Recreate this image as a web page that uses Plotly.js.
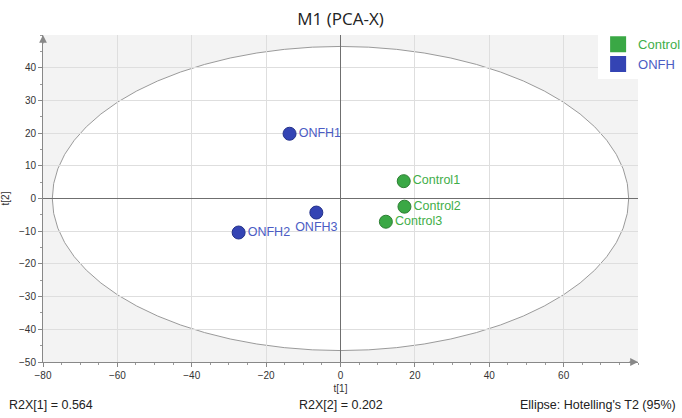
<!DOCTYPE html>
<html>
<head>
<meta charset="utf-8">
<script src="https://cdn.plot.ly/plotly-3.0.1.min.js"></script>
<style>html,body{margin:0;padding:0;background:#fff;}#chart{width:682px;height:418px;}</style>
</head>
<body>
<div id="chart"></div>
<script>
// Data
const controlNames = ["Control1", "Control2", "Control3"];
const controlT1 = [17.0, 17.2, 12.2];
const controlT2 = [5.3, -2.5, -7.1];
const onfhNames = ["ONFH1", "ONFH2", "ONFH3"];
const onfhT1 = [-13.7, -27.4, -6.5];
const onfhT2 = [19.8, -10.4, -4.3];
const ellipseA = 77.5;   // Hotelling's T2 (95%) semi-axis on t[1]
const ellipseB = 46.5;   // semi-axis on t[2]
const xTicks = [-80, -60, -40, -20, 0, 20, 40, 60];
const yTicks = [-50, -40, -30, -20, -10, 0, 10, 20, 30, 40];
const footerTexts = ["R2X[1] = 0.564", "R2X[2] = 0.202", "Ellipse: Hotelling's T2 (95%)"];

const green = "#3aa845", greenText = "#3fae49", greenEdge = "#2d7f33";
const blue = "#3444b4", blueText = "#4b5cc4", blueEdge = "#22308a";
const arial = "Liberation Sans, Arial, sans-serif";

const traces = [
  {
    x: controlT1, y: controlT2, text: controlNames, mode: "markers+text", type: "scatter",
    textposition: ["middle right", "middle right", "middle right"],
    marker: {size: 13, color: green, line: {color: greenEdge, width: 1}},
    textfont: {color: greenText, size: 12.5, family: arial},
    showlegend: false, hoverinfo: "text", cliponaxis: false
  },
  {
    x: onfhT1, y: onfhT2, text: onfhNames, mode: "markers+text", type: "scatter",
    textposition: ["middle right", "middle right", "bottom center"],
    marker: {size: 13, color: blue, line: {color: blueEdge, width: 1}},
    textfont: {color: blueText, size: 12.5, family: arial},
    showlegend: false, hoverinfo: "text", cliponaxis: false
  },
  {
    x: [null], y: [null], mode: "markers", type: "scatter",
    name: '<span style="color:' + greenText + '">Control</span>',
    marker: {symbol: "square", size: 16, color: green}
  },
  {
    x: [null], y: [null], mode: "markers", type: "scatter",
    name: '<span style="color:' + blueText + '">ONFH</span>',
    marker: {symbol: "square", size: 16, color: blue}
  }
];

const tickFont = {size: 10, color: "#333", family: arial};

const layout = {
  width: 682, height: 418,
  margin: {l: 43, r: 44, t: 35, b: 56, autoexpand: false},
  paper_bgcolor: "#ffffff",
  plot_bgcolor: "#f3f3f3",
  title: {text: "M1 (PCA-X)", x: 0.5, xref: "paper", y: 0.968, yanchor: "top",
          font: {size: 17, color: "#222", family: "Open Sans, sans-serif"}},
  xaxis: {
    range: [-80, 80], tickvals: xTicks, ticks: "outside", ticklen: 4, tickcolor: "#888",
    showgrid: true, gridcolor: "#dedede", gridwidth: 1,
    zeroline: true, zerolinecolor: "#6f6f6f", zerolinewidth: 1,
    showline: true, linecolor: "#888", linewidth: 1, mirror: false,
    minor: {dtick: 5, ticks: "outside", ticklen: 2, tickcolor: "#999", showgrid: false},
    tickfont: tickFont,
    title: {text: "t[1]", font: {size: 10, color: "#333", family: arial}, standoff: 4},
    automargin: false, fixedrange: true
  },
  yaxis: {
    range: [-50, 50], tickvals: yTicks, ticks: "outside", ticklen: 4, tickcolor: "#888",
    showgrid: true, gridcolor: "#dedede", gridwidth: 1,
    zeroline: true, zerolinecolor: "#6f6f6f", zerolinewidth: 1,
    showline: true, linecolor: "#888", linewidth: 1,
    minor: {dtick: 5, ticks: "outside", ticklen: 2, tickcolor: "#999", showgrid: false},
    tickfont: tickFont,
    title: {text: "t[2]", font: {size: 10, color: "#333", family: arial}, standoff: 9},
    automargin: false, fixedrange: true
  },
  shapes: [
    {type: "circle", xref: "x", yref: "y", x0: -ellipseA, x1: ellipseA, y0: -ellipseB, y1: ellipseB,
     fillcolor: "#ffffff", line: {color: "#9a9a9a", width: 1}, layer: "below"}
  ],
  legend: {
    xref: "container", yref: "container",
    x: 0.877, xanchor: "left", y: 0.93, yanchor: "top",
    bgcolor: "#ffffff", borderwidth: 0,
    font: {size: 13, family: arial},
    itemwidth: 30, tracegroupgap: 0
  },
  annotations: [
    {xref: "paper", yref: "paper", x: 1.0, y: 0, text: "", showarrow: true,
     arrowhead: 2, arrowsize: 1.2, arrowwidth: 1.3, arrowcolor: "#888", ax: -10, ay: 0},
    {xref: "paper", yref: "paper", x: 0, y: 1.0, text: "", showarrow: true,
     arrowhead: 2, arrowsize: 1.2, arrowwidth: 1.3, arrowcolor: "#888", ax: 0, ay: 10},
    {xref: "paper", yref: "paper", x: -0.0606, y: -0.1315, xanchor: "left", yanchor: "middle",
     text: footerTexts[0], showarrow: false, font: {size: 12.5, color: "#222", family: arial}},
    {xref: "paper", yref: "paper", x: 0.5, y: -0.1315, xanchor: "center", yanchor: "middle",
     text: footerTexts[1], showarrow: false, font: {size: 12.5, color: "#222", family: arial}},
    {xref: "paper", yref: "paper", x: 1.067, y: -0.1315, xanchor: "right", yanchor: "middle",
     text: footerTexts[2], showarrow: false, font: {size: 12.5, color: "#222", family: arial}}
  ],
  hovermode: "closest"
};

Plotly.newPlot("chart", traces, layout, {displayModeBar: false, staticPlot: true});
</script>
</body>
</html>
